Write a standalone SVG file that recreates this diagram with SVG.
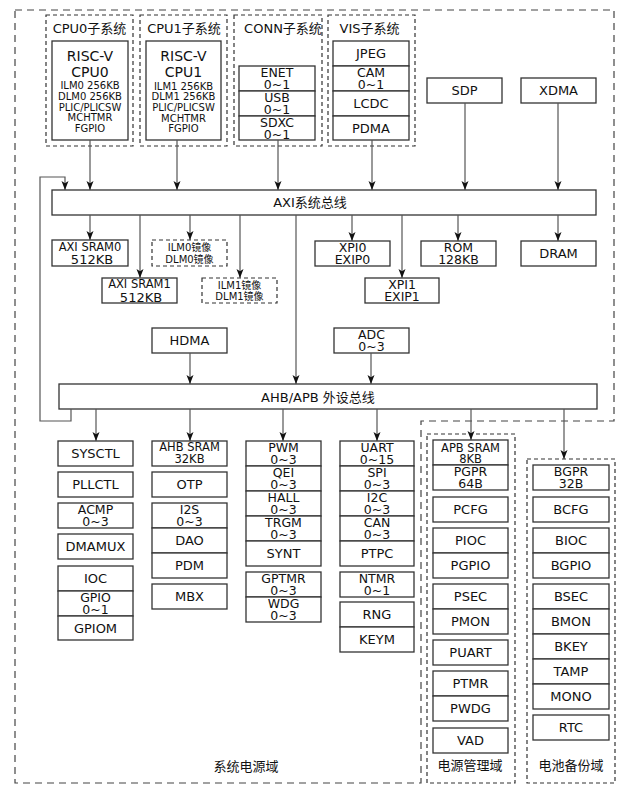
<svg xmlns="http://www.w3.org/2000/svg" width="627" height="795" viewBox="0 0 627 795">
<defs>
<marker id="ar" markerUnits="userSpaceOnUse" markerWidth="10" markerHeight="8" refX="9" refY="3.5" orient="auto"><path d="M0,0 L9,3.5 L0,7 L2.2,3.5 z" fill="#111"/></marker>
<style>
.b{fill:#fff;stroke:#333;stroke-width:1.3}
.d{fill:none;stroke:#333;stroke-width:1.2;stroke-dasharray:4 3}
.dw{fill:#fff;stroke:#333;stroke-width:1.2;stroke-dasharray:4 3}
.o{fill:none;stroke:#444;stroke-width:1.2;stroke-dasharray:7 5}
text{font-family:"DejaVu Sans","Noto Sans CJK SC",sans-serif;font-size:13px;text-anchor:middle;fill:#111}
.s{font-size:10px}
.m{font-size:11.5px}
.l{font-size:14px}
.t{font-size:12.5px}
.c path{fill:none;stroke:#555;stroke-width:1.2}
.c path.a{marker-end:url(#ar)}
</style>
</defs>
<rect width="627" height="795" fill="#fff"/>
<g id="domains">
<path class="o" d="M15,10 H614 V421 H421 V783 H15 Z"/>
<text x="246" y="771">系统电源域</text>
<rect class="d" x="427" y="434" width="88" height="349"/>
<text x="470" y="770">电源管理域</text>
<rect class="d" x="527" y="459" width="88" height="324"/>
<text x="571" y="770">电池备份域</text>
</g>
<g id="cpu0-sub"><rect class="d" x="46" y="15" width="87" height="131"/><text x="89.5" y="32.5">CPU0子系统</text></g>
<g id="cpu1-sub"><rect class="d" x="140" y="15" width="87" height="131"/><text x="184" y="32.5">CPU1子系统</text></g>
<g id="conn-sub"><rect class="d" x="234" y="15" width="88" height="131"/><text x="283" y="32.5">CONN子系统</text></g>
<g id="vis-sub"><rect class="d" x="328" y="15" width="87" height="131"/><text x="369.5" y="32.5">VIS子系统</text></g>
<g id="cpu0"><rect class="b" x="52" y="41" width="76" height="99"/>
<text class="l" x="90" y="60.5">RISC-V</text><text class="l" x="90" y="77">CPU0</text>
<text class="s" x="90" y="89">ILM0 256KB</text><text class="s" x="90" y="99.5">DLM0 256KB</text><text class="s" x="90" y="110.5">PLIC/PLICSW</text><text class="s" x="90" y="121">MCHTMR</text><text class="s" x="90" y="131.5">FGPIO</text></g>
<g id="cpu1"><rect class="b" x="146" y="41" width="75" height="99"/>
<text class="l" x="183.5" y="60.5">RISC-V</text><text class="l" x="183.5" y="77">CPU1</text>
<text class="s" x="183.5" y="89.5">ILM1 256KB</text><text class="s" x="183.5" y="100">DLM1 256KB</text><text class="s" x="183.5" y="110.5">PLIC/PLICSW</text><text class="s" x="183.5" y="121.5">MCHTMR</text><text class="s" x="183.5" y="131.5">FGPIO</text></g>
<g id="enet"><rect class="b" x="239" y="66" width="76" height="25"/><text class="t" x="277" y="76.5">ENET</text><text class="t" x="277" y="89">0~1</text></g>
<g id="usb"><rect class="b" x="239" y="91" width="76" height="25"/><text class="t" x="277" y="101.5">USB</text><text class="t" x="277" y="114">0~1</text></g>
<g id="sdxc"><rect class="b" x="239" y="116" width="76" height="24"/><text class="t" x="277" y="126.5">SDXC</text><text class="t" x="277" y="139">0~1</text></g>
<g id="jpeg"><rect class="b" x="333" y="41" width="76" height="25"/><text x="371" y="58">JPEG</text></g>
<g id="cam"><rect class="b" x="333" y="66" width="76" height="25"/><text class="t" x="371" y="76.5">CAM</text><text class="t" x="371" y="89">0~1</text></g>
<g id="lcdc"><rect class="b" x="333" y="91" width="76" height="25"/><text x="371" y="108">LCDC</text></g>
<g id="pdma"><rect class="b" x="333" y="116" width="76" height="24"/><text x="371" y="133">PDMA</text></g>
<g id="sdp"><rect class="b" x="427" y="78" width="75" height="25"/><text x="464.5" y="95">SDP</text></g>
<g id="xdma"><rect class="b" x="521" y="78" width="75" height="25"/><text x="558.5" y="95">XDMA</text></g>
<g id="axi"><rect class="b" x="52" y="190" width="544" height="25"/><text x="310" y="207">AXI系统总线</text></g>
<g id="axisram0"><rect class="b" x="52" y="240" width="76" height="26"/><text class="m" x="90" y="250.5">AXI SRAM0</text><text x="92" y="264">512KB</text></g>
<g id="ilm0m"><rect class="dw" x="152" y="240" width="75" height="26"/><text class="s" x="189.5" y="251">ILM0镜像</text><text class="s" x="189.5" y="262.5">DLM0镜像</text></g>
<g id="axisram1"><rect class="b" x="102" y="278" width="75" height="25"/><text class="m" x="139.5" y="288">AXI SRAM1</text><text x="141" y="301.5">512KB</text></g>
<g id="ilm1m"><rect class="dw" x="202" y="278" width="75" height="25"/><text class="s" x="239.5" y="288.5">ILM1镜像</text><text class="s" x="239.5" y="300">DLM1镜像</text></g>
<g id="xpi0"><rect class="b" x="315" y="241" width="75" height="25"/><text class="t" x="352.5" y="251.5">XPI0</text><text class="t" x="352.5" y="264">EXIP0</text></g>
<g id="rom"><rect class="b" x="421" y="241" width="75" height="25"/><text class="t" x="458.5" y="251.5">ROM</text><text class="t" x="458.5" y="264">128KB</text></g>
<g id="dram"><rect class="b" x="521" y="241" width="75" height="25"/><text x="558.5" y="257.5">DRAM</text></g>
<g id="xpi1"><rect class="b" x="365" y="278" width="74" height="25"/><text class="t" x="402" y="288.5">XPI1</text><text class="t" x="402" y="301">EXIP1</text></g>
<g id="hdma"><rect class="b" x="152" y="328" width="75" height="25"/><text x="189.5" y="345">HDMA</text></g>
<g id="adc"><rect class="b" x="334" y="328" width="75" height="25"/><text class="t" x="371.5" y="338.5">ADC</text><text class="t" x="371.5" y="351">0~3</text></g>
<g id="ahb"><rect class="b" x="59" y="384" width="538" height="25"/><text x="318" y="401.5">AHB/APB 外设总线</text></g>
<g id="sysctl"><rect class="b" x="58" y="441" width="75" height="25"/><text x="95.5" y="458">SYSCTL</text></g>
<g id="pllctl"><rect class="b" x="58" y="472" width="75" height="25"/><text x="95.5" y="489">PLLCTL</text></g>
<g id="acmp"><rect class="b" x="58" y="503" width="75" height="25"/><text class="t" x="95.5" y="513.5">ACMP</text><text class="t" x="95.5" y="526">0~3</text></g>
<g id="dmamux"><rect class="b" x="58" y="534" width="75" height="25"/><text x="95.5" y="551">DMAMUX</text></g>
<g id="ioc"><rect class="b" x="58" y="566" width="75" height="25"/><text x="95.5" y="583">IOC</text></g>
<g id="gpio"><rect class="b" x="58" y="591" width="75" height="25"/><text class="t" x="95.5" y="601.5">GPIO</text><text class="t" x="95.5" y="614">0~1</text></g>
<g id="gpiom"><rect class="b" x="58" y="616" width="75" height="24"/><text x="95.5" y="633">GPIOM</text></g>
<g id="ahbsram"><rect class="b" x="152" y="441" width="75" height="25"/><text class="m" x="189.5" y="451">AHB SRAM</text><text class="m" x="189.5" y="462.5">32KB</text></g>
<g id="otp"><rect class="b" x="152" y="472" width="75" height="25"/><text x="189.5" y="489">OTP</text></g>
<g id="i2s"><rect class="b" x="152" y="503" width="75" height="25"/><text class="t" x="189.5" y="513.5">I2S</text><text class="t" x="189.5" y="526">0~3</text></g>
<g id="dao"><rect class="b" x="152" y="528" width="75" height="25"/><text x="189.5" y="545">DAO</text></g>
<g id="pdm"><rect class="b" x="152" y="553" width="75" height="25"/><text x="189.5" y="570">PDM</text></g>
<g id="mbx"><rect class="b" x="152" y="584" width="75" height="25"/><text x="189.5" y="601">MBX</text></g>
<g id="pwm"><rect class="b" x="246" y="441" width="75" height="25"/><text class="t" x="283.5" y="451.5">PWM</text><text class="t" x="283.5" y="464">0~3</text></g>
<g id="qei"><rect class="b" x="246" y="466" width="75" height="25"/><text class="t" x="283.5" y="476.5">QEI</text><text class="t" x="283.5" y="489">0~3</text></g>
<g id="hall"><rect class="b" x="246" y="491" width="75" height="25"/><text class="t" x="283.5" y="501.5">HALL</text><text class="t" x="283.5" y="514">0~3</text></g>
<g id="trgm"><rect class="b" x="246" y="516" width="75" height="25"/><text class="t" x="283.5" y="526.5">TRGM</text><text class="t" x="283.5" y="539">0~3</text></g>
<g id="synt"><rect class="b" x="246" y="541" width="75" height="25"/><text x="283.5" y="558">SYNT</text></g>
<g id="gptmr"><rect class="b" x="246" y="572" width="75" height="25"/><text class="t" x="283.5" y="582.5">GPTMR</text><text class="t" x="283.5" y="595">0~3</text></g>
<g id="wdg"><rect class="b" x="246" y="597" width="75" height="25"/><text class="t" x="283.5" y="607.5">WDG</text><text class="t" x="283.5" y="620">0~3</text></g>
<g id="uart"><rect class="b" x="340" y="441" width="74" height="25"/><text class="t" x="377" y="451.5">UART</text><text class="t" x="377" y="464">0~15</text></g>
<g id="spi"><rect class="b" x="340" y="466" width="74" height="25"/><text class="t" x="377" y="476.5">SPI</text><text class="t" x="377" y="489">0~3</text></g>
<g id="i2c"><rect class="b" x="340" y="491" width="74" height="25"/><text class="t" x="377" y="501.5">I2C</text><text class="t" x="377" y="514">0~3</text></g>
<g id="can"><rect class="b" x="340" y="516" width="74" height="25"/><text class="t" x="377" y="526.5">CAN</text><text class="t" x="377" y="539">0~3</text></g>
<g id="ptpc"><rect class="b" x="340" y="541" width="74" height="25"/><text x="377" y="558">PTPC</text></g>
<g id="ntmr"><rect class="b" x="340" y="572" width="74" height="25"/><text class="t" x="377" y="582.5">NTMR</text><text class="t" x="377" y="595">0~1</text></g>
<g id="rng"><rect class="b" x="340" y="602" width="74" height="25"/><text x="377" y="619">RNG</text></g>
<g id="keym"><rect class="b" x="340" y="627" width="74" height="25"/><text x="377" y="644">KEYM</text></g>
<g id="apbsram"><rect class="b" x="433" y="440" width="75" height="25"/><text class="m" x="470.5" y="451.5">APB SRAM</text><text class="m" x="470.5" y="463">8KB</text></g>
<g id="pgpr"><rect class="b" x="433" y="465" width="75" height="25"/><text class="t" x="470.5" y="475.5">PGPR</text><text class="t" x="470.5" y="488">64B</text></g>
<g id="pcfg"><rect class="b" x="433" y="497" width="75" height="25"/><text x="470.5" y="514">PCFG</text></g>
<g id="pioc"><rect class="b" x="433" y="528" width="75" height="25"/><text x="470.5" y="545">PIOC</text></g>
<g id="pgpio"><rect class="b" x="433" y="553" width="75" height="25"/><text x="470.5" y="570">PGPIO</text></g>
<g id="psec"><rect class="b" x="433" y="584" width="75" height="25"/><text x="470.5" y="601">PSEC</text></g>
<g id="pmon"><rect class="b" x="433" y="609" width="75" height="25"/><text x="470.5" y="626">PMON</text></g>
<g id="puart"><rect class="b" x="433" y="640" width="75" height="25"/><text x="470.5" y="657">PUART</text></g>
<g id="ptmr"><rect class="b" x="433" y="671" width="75" height="25"/><text x="470.5" y="688">PTMR</text></g>
<g id="pwdg"><rect class="b" x="433" y="696" width="75" height="25"/><text x="470.5" y="713">PWDG</text></g>
<g id="vad"><rect class="b" x="433" y="728" width="75" height="25"/><text x="470.5" y="745">VAD</text></g>
<g id="bgpr"><rect class="b" x="533" y="465" width="76" height="25"/><text class="t" x="571" y="475.5">BGPR</text><text class="t" x="571" y="488">32B</text></g>
<g id="bcfg"><rect class="b" x="533" y="497" width="76" height="25"/><text x="571" y="514">BCFG</text></g>
<g id="bioc"><rect class="b" x="533" y="528" width="76" height="25"/><text x="571" y="545">BIOC</text></g>
<g id="bgpio"><rect class="b" x="533" y="553" width="76" height="25"/><text x="571" y="570">BGPIO</text></g>
<g id="bsec"><rect class="b" x="533" y="584" width="76" height="25"/><text x="571" y="601">BSEC</text></g>
<g id="bmon"><rect class="b" x="533" y="609" width="76" height="25"/><text x="571" y="626">BMON</text></g>
<g id="bkey"><rect class="b" x="533" y="634" width="76" height="25"/><text x="571" y="651">BKEY</text></g>
<g id="tamp"><rect class="b" x="533" y="659" width="76" height="25"/><text x="571" y="676">TAMP</text></g>
<g id="mono"><rect class="b" x="533" y="684" width="76" height="25"/><text x="571" y="701">MONO</text></g>
<g id="rtc"><rect class="b" x="533" y="715" width="76" height="25"/><text x="571" y="732">RTC</text></g>
<g id="connectors" class="c">
<path class="a" d="M90,140 V190"/>
<path class="a" d="M177,140 V190"/>
<path class="a" d="M278,140 V190"/>
<path class="a" d="M372,140 V190"/>
<path class="a" d="M465,103 V190"/>
<path class="a" d="M558,103 V190"/>
<path class="a" d="M71,409 V421 H40 V177 H65 V190"/>
<path class="a" d="M90,215 V240"/>
<path class="a" d="M140,215 V278"/>
<path class="a" d="M190,215 V240"/>
<path class="a" d="M240,215 V278"/>
<path class="a" d="M296,215 V384"/>
<path class="a" d="M352,215 V241"/>
<path class="a" d="M402,215 V278"/>
<path class="a" d="M458,215 V241"/>
<path class="a" d="M558,215 V241"/>
<path class="a" d="M190,353 V384"/>
<path class="a" d="M371,353 V384"/>
<path class="a" d="M96,409 V441"/>
<path class="a" d="M190,409 V441"/>
<path class="a" d="M283,409 V441"/>
<path class="a" d="M377,409 V441"/>
<path class="a" d="M471,409 V440"/>
<path class="a" d="M564,409 V459"/>
</g>
</svg>
